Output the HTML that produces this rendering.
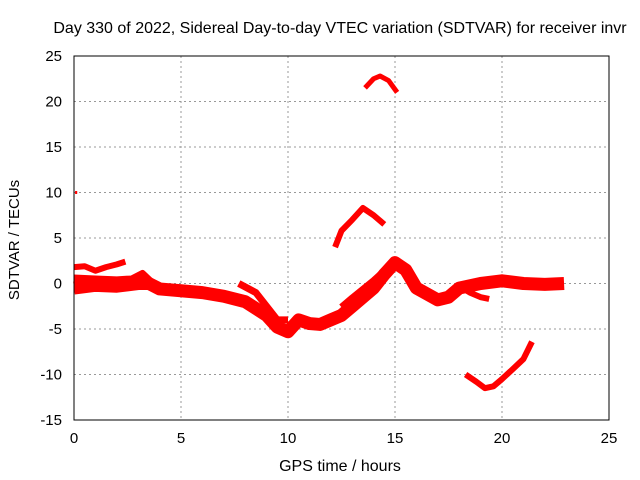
<!DOCTYPE html>
<html><head><meta charset="utf-8"><style>
body{margin:0;background:#fff;}
svg{display:block;font-family:"Liberation Sans",sans-serif;}
</style></head><body>
<svg id="chart" width="640" height="480">
<text x="340" y="33" text-anchor="middle" font-size="16">Day 330 of 2022, Sidereal Day-to-day VTEC variation (SDTVAR) for receiver invr</text>
<text x="340" y="471" text-anchor="middle" font-size="16">GPS time / hours</text>
<text transform="translate(19,240) rotate(-90)" text-anchor="middle" font-size="15">SDTVAR / TECUs</text>
<g id="grid"></g><g id="marks"></g>
<rect x="74" y="56" width="535" height="364" fill="none" stroke="#000" stroke-width="1"/>
</svg>
<script>
const xTicks=[0,5,10,15,20,25];
const yTicks=[-15,-10,-5,0,5,10,15,20,25];
const segA_t=[0,0.5,1,1.5,2,2.4];
const segA_v=[1.8,1.9,1.4,1.8,2.1,2.4];
const main_t=[0,1,2,3,3.5,4,5,6,7,8,9,9.5,10,10.5,11,11.5,12,12.5,13,14,14.5,15,15.5,16,17,17.5,18,19,20,21,22,22.9];
const main_v=[-0.5,-0.2,-0.3,0,0,-0.6,-0.8,-1.0,-1.4,-2,-3.5,-4.8,-5.3,-4,-4.4,-4.5,-4,-3.5,-2.5,-0.5,1,2.3,1.5,-0.5,-1.8,-1.5,-0.5,0,0.3,0,-0.1,0];
const top03_t=[0,1,2,2.7,3.2,3.6];
const top03_v=[0.6,0.5,0.4,0.5,1.1,0.2];
const br1_t=[7.7,8.5,9,9.5,10];
const br1_v=[0,-1,-2.5,-4,-4];
const br2_t=[12.5,13,14,14.7];
const br2_v=[-2.6,-1.6,0.3,1.8];
const br3_t=[17.5,18,18.5,19,19.4];
const br3_v=[-1.2,-0.3,-1,-1.5,-1.7];
const segC_t=[12.2,12.5,13,13.5,14,14.5];
const segC_v=[4,5.8,7,8.3,7.5,6.5];
const segD_t=[13.6,14,14.3,14.7,15.1];
const segD_v=[21.5,22.5,22.8,22.3,21];
const segE_t=[18.3,18.8,19.2,19.6,20,20.6,21,21.4];
const segE_v=[-10,-10.8,-11.5,-11.3,-10.5,-9.2,-8.3,-6.4];
const pt_t=[0.05];const pt_v=[10];
const X=t=>74+t*(535/25);
const Y=v=>56+(25-v)*(364/40);
const NS="http://www.w3.org/2000/svg";
const g=document.getElementById('grid'),m=document.getElementById('marks');
xTicks.forEach(t=>{
 const l=document.createElementNS(NS,'line');
 l.setAttribute('x1',X(t));l.setAttribute('x2',X(t));l.setAttribute('y1',56);l.setAttribute('y2',420);
 l.setAttribute('stroke','#999');l.setAttribute('stroke-dasharray','2,3');
 
 
 g.appendChild(l);
 const tx=document.createElementNS(NS,'text');
 tx.setAttribute('x',X(t));tx.setAttribute('y',443);tx.setAttribute('text-anchor','middle');tx.setAttribute('font-size','15');
 tx.textContent=t;
 
 
 g.appendChild(tx);
});
yTicks.forEach(v=>{
 const l=document.createElementNS(NS,'line');
 l.setAttribute('x1',74);l.setAttribute('x2',609);l.setAttribute('y1',Y(v));l.setAttribute('y2',Y(v));
 l.setAttribute('stroke','#999');l.setAttribute('stroke-dasharray','2,3');
 
 
 g.appendChild(l);
 const tx=document.createElementNS(NS,'text');
 tx.setAttribute('x',62);tx.setAttribute('y',Y(v)+5);tx.setAttribute('text-anchor','end');tx.setAttribute('font-size','15');
 tx.textContent=v;
 
 
 g.appendChild(tx);
});
function seg(ts,vs,w,name){
 const p=document.createElementNS(NS,'polyline');
 p.setAttribute('points',ts.map((t,i)=>X(t)+','+Y(vs[i])).join(' '));
 p.setAttribute('fill','none');p.setAttribute('stroke','#f00');p.setAttribute('stroke-width',w);
 p.setAttribute('stroke-linejoin','round');p.setAttribute('stroke-linecap','butt');
 
 
 m.appendChild(p);
}
seg(main_t,main_v,13,'main-band');
seg(top03_t,top03_v,7,'early-upper-band');
seg(segA_t,segA_v,6,'early-top-segment');
seg(br1_t,br1_v,7,'branch-8h');
seg(br2_t,br2_v,7,'branch-13h');
seg(br3_t,br3_v,6,'branch-18h');
seg(segC_t,segC_v,6,'segment-13h-8tecu');
seg(segD_t,segD_v,5,'segment-14h-22tecu');
seg(segE_t,segE_v,6,'segment-20h-neg10');
seg(pt_t.concat([pt_t[0]+0.1]),pt_v.concat([pt_v[0]]),3,'point-0h-10');
</script>
</body></html>
